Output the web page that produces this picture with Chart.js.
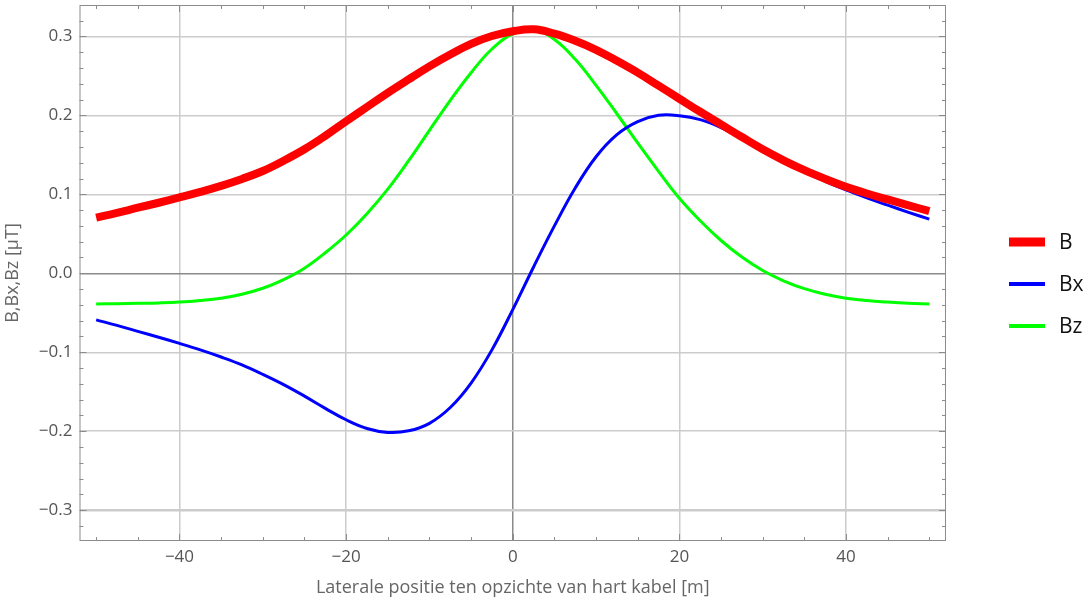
<!DOCTYPE html>
<html>
<head>
<meta charset="utf-8">
<script src="https://cdn.jsdelivr.net/npm/chart.js@4.4.1/dist/chart.umd.min.js"></script>
<style>
  body { margin: 0; background: #fff; }
  #wrap { width: 1092px; height: 604px; }
</style>
</head>
<body>
<div id="wrap"><canvas id="veld" width="1092" height="604"></canvas></div>
<script>
// positie t.o.v. hart kabel [m]
const posities = [-50, -47.5, -45, -42.5, -40, -37.5, -35, -32.5, -30, -27.5, -25, -22.5, -20, -17.5, -15, -12.5, -10, -7.5, -5, -2.5,
    0, 2.5, 5, 7.5, 10, 12.5, 15, 17.5, 20, 22.5, 25, 27.5, 30, 32.5, 35, 37.5, 40, 42.5, 45, 47.5, 50];

// veldsterkte [µT]
const waardenB = [0.0705, 0.0765, 0.083, 0.0893, 0.096, 0.103, 0.1107, 0.1195, 0.1295, 0.1425, 0.157, 0.174, 0.1925, 0.2105, 0.2285, 0.2455, 0.262, 0.277, 0.2905, 0.3005,
    0.3065, 0.309, 0.3035, 0.2945, 0.283, 0.269, 0.254, 0.2375, 0.221, 0.2045, 0.1885, 0.1725, 0.157, 0.143, 0.1305, 0.1195, 0.1095, 0.101, 0.0935, 0.086, 0.0787];
const waardenBx = [-0.059, -0.066, -0.0735, -0.081, -0.0888, -0.097, -0.106, -0.116, -0.128, -0.141, -0.1555, -0.171, -0.1855, -0.1965, -0.2015, -0.1995, -0.190, -0.170, -0.139, -0.097,
    -0.046, 0.008, 0.060, 0.108, 0.1475, 0.1755, 0.192, 0.2, 0.1995, 0.1945, 0.1845, 0.1705, 0.156, 0.1415, 0.1285, 0.1165, 0.1055, 0.0955, 0.0862, 0.0772, 0.0685];
const waardenBz = [-0.0388, -0.0385, -0.038, -0.0375, -0.0365, -0.0345, -0.0315, -0.0265, -0.019, -0.008, 0.0065, 0.026, 0.0485, 0.0755, 0.1065, 0.1425, 0.181, 0.219, 0.254, 0.284,
    0.303, 0.308, 0.296, 0.271, 0.238, 0.202, 0.165, 0.129, 0.095, 0.0665, 0.0415, 0.0205, 0.0035, -0.0095, -0.0195, -0.0265, -0.0315, -0.0345, -0.0365, -0.038, -0.0388];

const namen = ["B", "Bx", "Bz"];
const kleuren = ["#ff0000", "#0000ff", "#00ff00"];
const diktes = [8, 3, 3];

const minTeken = v => String(v).replace("-", "\u2212");

// Mathematica-achtige kader met ticks naar binnen + legenda rechts
const kaderPlugin = {
    id: "kader",
    afterDraw(chart) {
        const ctx = chart.ctx;
        const a = chart.chartArea;
        const sx = chart.scales.x, sy = chart.scales.y;
        ctx.save();
        ctx.strokeStyle = "#8c8c8c";
        ctx.lineWidth = 1;
        ctx.strokeRect(a.left + 0.5, a.top + 0.5, a.right - a.left - 1, a.bottom - a.top - 1);
        ctx.beginPath();
        for (let v = -50; v <= 50; v += 5) {
            const px = Math.round(sx.getPixelForValue(v)) + 0.5;
            const len = v % 20 === 0 ? 7 : 4;
            ctx.moveTo(px, a.bottom); ctx.lineTo(px, a.bottom - len);
            ctx.moveTo(px, a.top); ctx.lineTo(px, a.top + len);
        }
        for (let i = -16; i <= 16; i++) {
            const py = Math.round(sy.getPixelForValue(i * 0.02)) + 0.5;
            const len = i % 5 === 0 ? 7 : 4;
            ctx.moveTo(a.left, py); ctx.lineTo(a.left + len, py);
            ctx.moveTo(a.right, py); ctx.lineTo(a.right - len, py);
        }
        ctx.stroke();

        // legenda
        const rijen = [242, 284, 326];
        chart.data.datasets.forEach((ds, i) => {
            ctx.strokeStyle = ds.borderColor;
            ctx.lineWidth = ds.borderWidth + 1;
            ctx.beginPath();
            ctx.moveTo(1009, rijen[i]);
            ctx.lineTo(1045, rijen[i]);
            ctx.stroke();
            ctx.fillStyle = "#111";
            ctx.font = "21px 'Open Sans'";
            ctx.textBaseline = "middle";
            ctx.fillText(ds.label, 1059, rijen[i] + 1);
        });
        ctx.restore();
    }
};

new Chart(document.getElementById("veld"), {
    type: "line",
    data: {
        labels: posities,
        datasets: namen.map((naam, i) => ({
            label: naam,
            data: [waardenB, waardenBx, waardenBz][i].map((w, j) => ({ x: posities[j], y: w })),
            borderColor: kleuren[i],
            borderWidth: diktes[i],
            pointRadius: 0,
            tension: 0.4,
            fill: false
        }))
    },
    options: {
        responsive: false,
        animation: false,
        layout: { padding: { top: 5, right: 146, left: 0, bottom: 0 } },
        plugins: { legend: { display: false }, tooltip: { enabled: false } },
        scales: {
            x: {
                type: "linear",
                min: -52,
                max: 52,
                afterFit: s => { s.height = 63; s.paddingLeft = 0; s.paddingRight = 0; },
                border: { display: false },
                grid: {
                    drawTicks: false,
                    color: c => c.tick.value === 0 ? "#8a8a8a" : "#cccccc",
                    lineWidth: 1.5
                },
                ticks: {
                    stepSize: 20,
                    includeBounds: false,
                    padding: 6,
                    color: "#555",
                    font: { family: "Open Sans", size: 17 },
                    callback: v => minTeken(v)
                },
                title: {
                    display: true,
                    text: "Laterale positie ten opzichte van hart kabel [m]",
                    color: "#666",
                    font: { family: "Open Sans", size: 18 },
                    padding: { top: 5, bottom: 5 }
                }
            },
            y: {
                min: -0.339,
                max: 0.3397,
                afterFit: s => { s.width = 79.5; s.paddingTop = 0; s.paddingBottom = 0; },
                border: { display: false },
                grid: {
                    drawTicks: false,
                    color: c => Math.abs(c.tick.value) < 1e-9 ? "#8a8a8a" : "#cccccc",
                    lineWidth: c => Math.abs(c.tick.value + 0.3) < 1e-9 ? 2.5 : 1.5
                },
                ticks: {
                    stepSize: 0.1,
                    includeBounds: false,
                    padding: 7,
                    color: "#555",
                    font: { family: "Open Sans", size: 17 },
                    callback: v => minTeken(v.toFixed(1))
                },
                title: {
                    display: true,
                    text: "B,Bx,Bz [\u03bcT]",
                    color: "#666",
                    font: { family: "Open Sans", size: 18 },
                    padding: { top: 2, bottom: 2 }
                }
            }
        }
    },
    plugins: [kaderPlugin]
});
</script>
</body>
</html>
